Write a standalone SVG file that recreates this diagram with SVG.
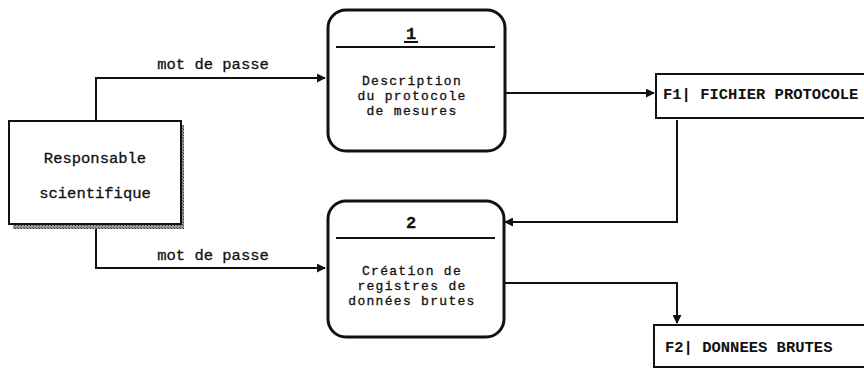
<svg xmlns="http://www.w3.org/2000/svg" width="864" height="368" viewBox="0 0 864 368">
  <defs>
    <marker id="arrow" viewBox="0 0 10 10" refX="9" refY="5" markerWidth="9" markerHeight="9" markerUnits="userSpaceOnUse" orient="auto">
      <path d="M0,0 L10,5 L0,10 Z" fill="#111"/>
    </marker>
    <pattern id="hatch" width="3" height="3" patternUnits="userSpaceOnUse">
      <rect width="3" height="3" fill="#9a9a9a"/>
      <rect width="1" height="1" fill="#333"/>
      <rect x="2" y="2" width="1" height="1" fill="#555"/>
    </pattern>
  </defs>
  <style>
    text { font-family: "Liberation Mono", "DejaVu Sans Mono", monospace; font-size: 15.5px; fill: #111; stroke: #111; stroke-width: 0.3; }
    .lbl { text-anchor: middle; }
    .body { font-size: 13px; letter-spacing: 1.3px; }
    .store { font-weight: bold; stroke-width: 0; }
    .num { font-weight: bold; font-size: 17px; text-anchor: middle; }
    .proc { fill: #fff; stroke: #111; stroke-width: 3; }
    .flow { fill: none; stroke: #111; stroke-width: 2; }
    .edge { stroke: #111; stroke-width: 2; fill: none; }
  </style>
  <rect width="864" height="368" fill="#fff"/>

  <!-- connectors -->
  <g id="connectors">
    <polyline class="flow" points="96,120 96,78 325,78" marker-end="url(#arrow)"/>
    <text x="213" y="69" class="lbl">mot de passe</text>
    <polyline class="flow" points="96,226 96,268 325,268" marker-end="url(#arrow)"/>
    <text x="213" y="260" class="lbl">mot de passe</text>
    <polyline class="flow" points="506,93 654,93" marker-end="url(#arrow)"/>
    <polyline class="flow" points="677,120 677,222 505,222" marker-end="url(#arrow)"/>
    <polyline class="flow" points="504,283 677,283 677,323" marker-end="url(#arrow)"/>
  </g>

  <!-- external entity -->
  <g id="responsable">
    <rect x="178" y="125" width="6" height="104" fill="url(#hatch)"/>
    <rect x="13" y="223" width="171" height="6" fill="url(#hatch)"/>
    <rect x="9" y="121" width="172" height="103" fill="#fff" stroke="#111" stroke-width="2"/>
    <text x="95" y="163" class="lbl">Responsable</text>
    <text x="95" y="198" class="lbl">scientifique</text>
  </g>

  <!-- process 1 -->
  <g id="process1">
    <rect x="328" y="10" width="177" height="141" rx="18" ry="18" class="proc"/>
    <text x="411" y="39" class="num">1</text>
    <line x1="404" y1="42" x2="418" y2="42" class="edge" stroke-width="1.5"/>
    <line x1="336" y1="47" x2="495" y2="47" class="edge"/>
    <text x="412" y="85" class="lbl body">Description</text>
    <text x="412" y="100" class="lbl body">du protocole</text>
    <text x="412" y="115" class="lbl body">de mesures</text>
  </g>

  <!-- process 2 -->
  <g id="process2">
    <rect x="328" y="201" width="176" height="136" rx="18" ry="18" class="proc"/>
    <text x="411" y="228" class="num">2</text>
    <line x1="336" y1="238" x2="495" y2="238" class="edge"/>
    <text x="412" y="275" class="lbl body">Création de</text>
    <text x="412" y="290" class="lbl body">registres de</text>
    <text x="412" y="305" class="lbl body">données brutes</text>
  </g>

  <!-- data store F1 -->
  <g id="f1">
    <rect x="655" y="73" width="215" height="46" fill="#fff"/>
    <line x1="655" y1="74" x2="864" y2="74" class="edge" stroke-width="3"/>
    <line x1="655" y1="118" x2="864" y2="118" class="edge" stroke-width="3"/>
    <line x1="656" y1="73" x2="656" y2="119" class="edge"/>
    <text x="663" y="99" class="store">F1| FICHIER PROTOCOLE</text>
  </g>

  <!-- data store F2 -->
  <g id="f2">
    <line x1="653" y1="325" x2="864" y2="325" class="edge" stroke-width="3"/>
    <line x1="653" y1="367" x2="864" y2="367" class="edge" stroke-width="2"/>
    <line x1="654" y1="324" x2="654" y2="368" class="edge"/>
    <text x="665" y="352" class="store">F2| DONNEES BRUTES</text>
  </g>
</svg>
